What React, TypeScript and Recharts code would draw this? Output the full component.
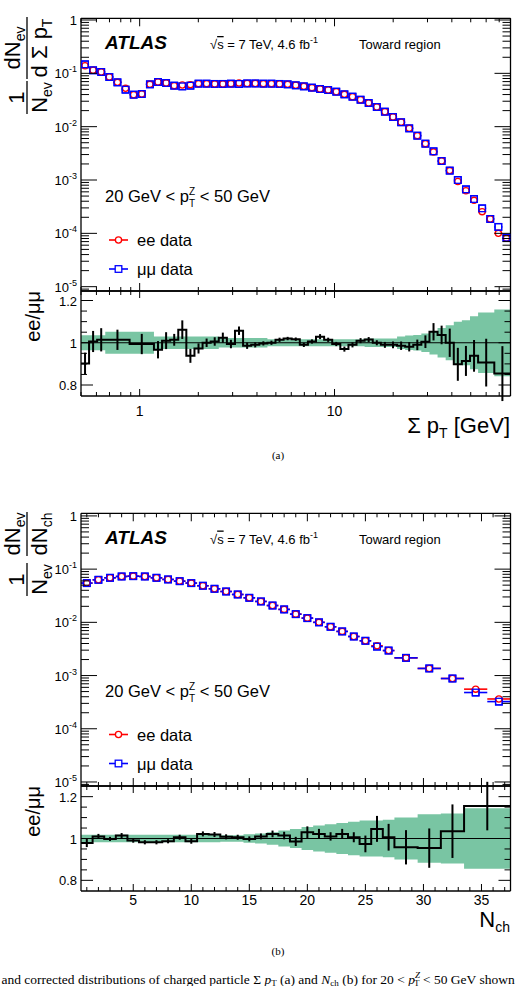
import React from "react";
import {
  Area,
  ComposedChart,
  ErrorBar,
  Line,
  ReferenceLine,
  Scatter,
  XAxis,
  YAxis,
} from "recharts";

const FONT = "'Liberation Sans', Arial, Helvetica, sans-serif";
const SERIF = "'Liberation Serif', 'Times New Roman', serif";
const RED = "#ff0000";
const BLUE = "#0000ff";
const BAND = "#79c5a3";

// ---- Σ pT, toward region ----
const sumPtEdges = [
  0.5, 0.55, 0.605, 0.666, 0.733, 0.807, 0.888, 0.977, 1.076, 1.184, 1.303,
  1.434, 1.578, 1.736, 1.911, 2.103, 2.314, 2.547, 2.803, 3.084, 3.394, 3.735,
  4.111, 4.524, 4.978, 5.478, 6.029, 6.635, 7.302, 8.035, 8.843, 9.731, 10.71,
  11.79, 12.97, 14.27, 15.71, 17.29, 19.02, 20.94, 23.04, 25.36, 27.9, 30.71,
  33.79, 37.19, 40.93, 45.04, 49.57, 54.55, 60.03, 66.06, 72.7, 80,
];
const sumPtEE = [
  0.139, 0.114, 0.106, 0.0853, 0.0678, 0.0523, 0.0398, 0.041, 0.0622, 0.0688,
  0.0659, 0.0587, 0.0605, 0.0613, 0.064, 0.064, 0.0633, 0.0633, 0.064, 0.0659,
  0.0646, 0.0646, 0.064, 0.064, 0.0633, 0.0622, 0.0596, 0.057, 0.0539, 0.0508,
  0.0487, 0.0453, 0.0404, 0.0365, 0.032, 0.0278, 0.0234, 0.0191, 0.0152,
  0.0121, 0.0093, 0.00678, 0.0048, 0.00335, 0.00227, 0.0015, 0.00094, 0.00063,
  0.000416, 0.000255, 0.000186, 0.0001, 0.000081,
];
const sumPtMuMu = [
  0.1475, 0.114, 0.106, 0.0853, 0.0678, 0.0494, 0.0398, 0.041, 0.0622, 0.0688,
  0.0659, 0.0587, 0.057, 0.0587, 0.064, 0.064, 0.0633, 0.0633, 0.064, 0.0633,
  0.0646, 0.0646, 0.064, 0.064, 0.0633, 0.0622, 0.0596, 0.057, 0.0539, 0.0508,
  0.0487, 0.0453, 0.0404, 0.0365, 0.032, 0.0278, 0.0234, 0.0191, 0.0152,
  0.0121, 0.0093, 0.00678, 0.0048, 0.00345, 0.00227, 0.0015, 0.001, 0.000668,
  0.00044, 0.000294, 0.000186, 0.000132, 0.000083,
];
// ratio uses the same bins, except the last four are merged in pairs
const sumPtRatioEdges = [
  0.5, 0.55, 0.605, 0.666, 0.733, 0.807, 0.888, 0.977, 1.076, 1.184, 1.303,
  1.434, 1.578, 1.736, 1.911, 2.103, 2.314, 2.547, 2.803, 3.084, 3.394, 3.735,
  4.111, 4.524, 4.978, 5.478, 6.029, 6.635, 7.302, 8.035, 8.843, 9.731, 10.71,
  11.79, 12.97, 14.27, 15.71, 17.29, 19.02, 20.94, 23.04, 25.36, 27.9, 30.71,
  33.79, 37.19, 40.93, 45.04, 49.57, 54.55, 66.06, 80,
];
const sumPtRatio = [
  0.902, 1.006, 1.014, 1.014, 1.014, 1.014, 0.994, 0.994, 0.994, 0.967, 1.01,
  1.014, 1.062, 0.938, 0.973, 1.0, 1.006, 1.024, 0.994, 1.057, 0.986, 0.99,
  0.997, 1.0, 1.014, 1.02, 1.017, 0.99, 1.006, 1.029, 1.014, 0.994, 0.97, 0.99,
  1.01, 1.015, 1.0, 0.99, 0.99, 0.986, 0.981, 0.99, 1.005, 1.052, 1.037, 1.0,
  0.898, 0.914, 0.938, 0.906, 0.854,
];
const sumPtRatioErr = [
  0.051, 0.05, 0.055, 0, 0.048, 0, 0, 0.048, 0, 0.041, 0.04, 0.028, 0.044,
  0.033, 0.024, 0.02, 0.02, 0.024, 0.02, 0.02, 0.015, 0.012, 0.01, 0.01, 0.01,
  0.008, 0.008, 0.01, 0.01, 0.012, 0.01, 0.01, 0.012, 0.012, 0.012, 0.012,
  0.012, 0.014, 0.016, 0.02, 0.022, 0.025, 0.03, 0.041, 0.044, 0.067, 0.078,
  0.071, 0.075, 0.113, 0.13,
];
const sumPtSyst = [
  0.036, 0.036, 0.036, 0.052, 0.052, 0.052, 0.052, 0.052, 0.052, 0.03, 0.03,
  0.03, 0.03, 0.03, 0.03, 0.03, 0.03, 0.022, 0.022, 0.022, 0.022, 0.022, 0.022,
  0.017, 0.017, 0.017, 0.017, 0.017, 0.017, 0.017, 0.017, 0.017, 0.017, 0.017,
  0.017, 0.02, 0.02, 0.02, 0.02, 0.03, 0.034, 0.037, 0.044, 0.055, 0.07, 0.083,
  0.1, 0.107, 0.125, 0.143, 0.158,
];

// ---- N_ch, toward region ----
const nchEdges = [
  0.5, 1.5, 2.5, 3.5, 4.5, 5.5, 6.5, 7.5, 8.5, 9.5, 10.5, 11.5, 12.5, 13.5,
  14.5, 15.5, 16.5, 17.5, 18.5, 19.5, 20.5, 21.5, 22.5, 23.5, 24.5, 25.5, 26.5,
  27.5, 29.5, 31.5, 33.5, 35.5, 37.5,
];
const nchEE = [
  0.0546, 0.063, 0.0687, 0.0728, 0.0738, 0.0728, 0.0687, 0.064, 0.0594, 0.0546,
  0.0487, 0.0427, 0.038, 0.0334, 0.0289, 0.0247, 0.0207, 0.0175, 0.01426,
  0.012, 0.01, 0.00825, 0.00675, 0.00542, 0.0045, 0.00363, 0.00295, 0.00215,
  0.00136, 0.00088, 0.000555, 0.000363,
];
const nchMuMu = [
  0.0546, 0.063, 0.0687, 0.0728, 0.0738, 0.0728, 0.0687, 0.064, 0.0594, 0.0546,
  0.0487, 0.0427, 0.038, 0.0334, 0.0289, 0.0247, 0.0207, 0.0175, 0.01426,
  0.012, 0.01, 0.00825, 0.00675, 0.00542, 0.0045, 0.0035, 0.00295, 0.00215,
  0.00136, 0.00088, 0.00048, 0.000324,
];
const nchRatioEdges = [
  0.5, 1.5, 2.5, 3.5, 4.5, 5.5, 6.5, 7.5, 8.5, 9.5, 10.5, 11.5, 12.5, 13.5,
  14.5, 15.5, 16.5, 17.5, 18.5, 19.5, 20.5, 21.5, 22.5, 23.5, 24.5, 25.5, 26.5,
  27.5, 29.5, 31.5, 33.5, 37.5,
];
const nchRatio = [
  0.979, 1.01, 0.998, 1.014, 0.99, 0.982, 0.982, 0.987, 1.006, 0.987, 1.022,
  1.019, 1.008, 1.006, 0.998, 1.01, 1.022, 1.014, 0.986, 1.03, 1.022, 1.01,
  1.022, 1.006, 0.974, 1.046, 1.006, 0.958, 0.954, 1.035, 1.155,
];
const nchRatioErr = [
  0.02, 0.012, 0.01, 0.012, 0.01, 0.01, 0.01, 0.01, 0.012, 0.012, 0.012, 0.012,
  0.012, 0.012, 0.012, 0.014, 0.016, 0.018, 0.022, 0.028, 0.024, 0.02, 0.024,
  0.024, 0.04, 0.062, 0.064, 0.082, 0.094, 0.128, 0.116,
];
const nchSyst = [
  0.018, 0.018, 0.018, 0.018, 0.018, 0.018, 0.018, 0.018, 0.018, 0.018, 0.018,
  0.018, 0.016, 0.016, 0.02, 0.024, 0.03, 0.038, 0.045, 0.055, 0.062, 0.068,
  0.074, 0.08, 0.086, 0.086, 0.09, 0.1, 0.116, 0.12, 0.145,
];

// axis ticks
const yDecades = [1e-5, 1e-4, 1e-3, 1e-2, 1e-1, 1];
const ratioTicks = [0.8, 0.85, 0.9, 0.95, 1, 1.05, 1.1, 1.15, 1.2];
const ratioLabels = [0.8, 1, 1.2];
const sumPtLabels = [1, 10];
const nchTicks = [
  1, 2, 3, 4, 5, 6, 7, 8, 9, 10, 11, 12, 13, 14, 15, 16, 17, 18, 19, 20, 21,
  22, 23, 24, 25, 26, 27, 28, 29, 30, 31, 32, 33, 34, 35, 36, 37,
];
const nchLabels = [5, 10, 15, 20, 25, 30, 35];

const logTicks = (lo: number, hi: number) => {
  const out: number[] = [];
  for (let e = Math.floor(Math.log10(lo)); e <= Math.ceil(Math.log10(hi)); e++) {
    for (let k = 1; k <= 9; k++) {
      const v = k * Math.pow(10, e);
      if (v >= lo * 0.9999 && v <= hi * 1.0001) out.push(v);
    }
  }
  return out;
};
const near = (list: number[]) => (v: number) =>
  list.some((m) => Math.abs(v - m) < 1e-9 * Math.max(1, m));

const binCenter = (lo: number, hi: number, log: boolean) =>
  log ? Math.sqrt(lo * hi) : (lo + hi) / 2;

function histPoints(edges: number[], vals: number[], log: boolean) {
  return vals.map((y, i) => {
    const x = binCenter(edges[i], edges[i + 1], log);
    return { x, y, xe: [x - edges[i], edges[i + 1] - x] };
  });
}

function stepRows(edges: number[], vals: number[], syst: number[]) {
  return edges.map((x, i) => {
    const j = Math.min(i, vals.length - 1);
    return { x, r: vals[j], band: [1 - syst[j], 1 + syst[j]] };
  });
}

function ratioPoints(edges: number[], vals: number[], errs: number[], log: boolean) {
  return vals.map((y, i) => ({
    x: binCenter(edges[i], edges[i + 1], log),
    y,
    ye: errs[i],
  }));
}

const decadeLabel = (v: number) => {
  if (Math.abs(v - 1) < 1e-9) return "1";
  const e = Math.round(Math.log10(v));
  return (
    <>
      10
      <tspan dy={-6} fontSize={9}>
        {e}
      </tspan>
    </>
  );
};

type Side = "bottom" | "top" | "left" | "right";

// ROOT-style inward ticks on every side of the frame
function makeTick(
  side: Side,
  isMajor: (v: number) => boolean,
  majorLen: number,
  minorLen: number,
  label?: (v: number) => React.ReactNode,
  labelGap = 20
) {
  return (props: any) => {
    const { x, y, payload } = props;
    const v = payload.value as number;
    const major = isMajor(v);
    const len = major ? majorLen : minorLen;
    const d =
      side === "bottom" ? [0, -len] : side === "top" ? [0, len] : side === "left" ? [len, 0] : [-len, 0];
    const txt = major && label ? label(v) : null;
    return (
      <g>
        <line x1={x} y1={y} x2={x + d[0]} y2={y + d[1]} stroke="#000" strokeWidth={1} />
        {txt != null && side === "bottom" && (
          <text x={x} y={y + labelGap} textAnchor="middle" fontSize={14} fontFamily={FONT} fill="#000">
            {txt}
          </text>
        )}
        {txt != null && side === "left" && (
          <text x={x - 4} y={y + 5} textAnchor="end" fontSize={13} fontFamily={FONT} fill="#000">
            {txt}
          </text>
        )}
      </g>
    );
  };
}

type AxisCfg = {
  scale: "log" | "linear";
  domain: [number, number];
  ticks: number[];
  isMajor: (v: number) => boolean;
  majorLen: number;
  minorLen: number;
  label?: (v: number) => React.ReactNode;
  labelGap?: number;
};

const frameLine = { stroke: "#000", strokeWidth: 1.3 };

// each axis takes 1px of the margin, so margins are set 1px smaller on every side
function frameAxes(xc: AxisCfg, yc: AxisCfg) {
  const common = {
    type: "number" as const,
    allowDataOverflow: true,
    interval: 0 as const,
    tickSize: 0,
    tickMargin: 0,
    axisLine: frameLine,
  };
  return [
    <XAxis
      key="xb"
      xAxisId="b"
      orientation="bottom"
      height={1}
      dataKey="x"
      scale={xc.scale}
      domain={xc.domain}
      ticks={xc.ticks}
      tick={makeTick("bottom", xc.isMajor, xc.majorLen, xc.minorLen, xc.label, xc.labelGap)}
      {...common}
    />,
    <XAxis
      key="xt"
      xAxisId="t"
      orientation="top"
      height={1}
      dataKey="x"
      scale={xc.scale}
      domain={xc.domain}
      ticks={xc.ticks}
      tick={makeTick("top", xc.isMajor, xc.majorLen, xc.minorLen)}
      {...common}
    />,
    <YAxis
      key="yl"
      yAxisId="l"
      orientation="left"
      width={1}
      scale={yc.scale}
      domain={yc.domain}
      ticks={yc.ticks}
      tick={makeTick("left", yc.isMajor, yc.majorLen, yc.minorLen, yc.label)}
      {...common}
    />,
    <YAxis
      key="yr"
      yAxisId="r"
      orientation="right"
      width={1}
      scale={yc.scale}
      domain={yc.domain}
      ticks={yc.ticks}
      tick={makeTick("right", yc.isMajor, yc.majorLen, yc.minorLen)}
      {...common}
    />,
  ];
}

const noShape = () => <g />;
const circle = (fill: string) => (p: any) =>
  p.cx == null ? <g /> : <circle cx={p.cx} cy={p.cy} r={3.1} fill={fill} stroke={RED} strokeWidth={1.3} />;
const square = (fill: string) => (p: any) =>
  p.cx == null ? (
    <g />
  ) : (
    <rect x={p.cx - 3.3} y={p.cy - 3.3} width={6.6} height={6.6} fill={fill} stroke={BLUE} strokeWidth={1.3} />
  );

type Margin = { top: number; right: number; bottom: number; left: number };

function MainPlot({
  height,
  margin,
  xc,
  yc,
  ee,
  mm,
}: {
  height: number;
  margin: Margin;
  xc: AxisCfg;
  yc: AxisCfg;
  ee: ReturnType<typeof histPoints>;
  mm: ReturnType<typeof histPoints>;
}) {
  return (
    <ComposedChart width={516} height={height} margin={margin}>
      {frameAxes(xc, yc)}
      <Scatter data={ee} dataKey="y" xAxisId="b" yAxisId="l" shape={noShape} isAnimationActive={false}>
        <ErrorBar dataKey="xe" direction="x" width={0} stroke={RED} strokeWidth={1.6} isAnimationActive={false} />
      </Scatter>
      <Scatter data={mm} dataKey="y" xAxisId="b" yAxisId="l" shape={noShape} isAnimationActive={false}>
        <ErrorBar dataKey="xe" direction="x" width={0} stroke={BLUE} strokeWidth={1.6} isAnimationActive={false} />
      </Scatter>
      <Scatter data={mm} dataKey="y" xAxisId="b" yAxisId="l" shape={square("#fff")} isAnimationActive={false} />
      <Scatter data={ee} dataKey="y" xAxisId="b" yAxisId="l" shape={circle("#fff")} isAnimationActive={false} />
      <Scatter data={mm} dataKey="y" xAxisId="b" yAxisId="l" shape={square("none")} isAnimationActive={false} />
    </ComposedChart>
  );
}

function RatioPlot({
  margin,
  xc,
  rows,
  pts,
  domain,
}: {
  margin: Margin;
  xc: AxisCfg;
  rows: ReturnType<typeof stepRows>;
  pts: ReturnType<typeof ratioPoints>;
  domain: [number, number];
}) {
  const yc: AxisCfg = {
    scale: "linear",
    domain,
    ticks: ratioTicks,
    isMajor: near(ratioLabels),
    majorLen: 12,
    minorLen: 6,
    label: (v) => String(v),
  };
  return (
    <ComposedChart width={516} height={140} margin={margin} data={rows}>
      {frameAxes(xc, yc)}
      <Area
        dataKey="band"
        type="stepAfter"
        xAxisId="b"
        yAxisId="l"
        fill={BAND}
        fillOpacity={1}
        stroke="none"
        isAnimationActive={false}
      />
      <ReferenceLine y={1} xAxisId="b" yAxisId="l" stroke="#000" strokeWidth={1} />
      <Line
        dataKey="r"
        type="stepAfter"
        xAxisId="b"
        yAxisId="l"
        stroke="#000"
        strokeWidth={2}
        dot={false}
        isAnimationActive={false}
      />
      <Scatter data={pts} dataKey="y" xAxisId="b" yAxisId="l" shape={noShape} isAnimationActive={false}>
        <ErrorBar dataKey="ye" direction="y" width={0} stroke="#000" strokeWidth={2} isAnimationActive={false} />
      </Scatter>
    </ComposedChart>
  );
}

const sumPtX = (ratio: boolean): AxisCfg => ({
  scale: "log",
  domain: [0.5, 80],
  ticks: logTicks(0.5, 80),
  isMajor: near(sumPtLabels),
  majorLen: ratio ? 7 : 8,
  minorLen: 4,
  label: ratio ? (v) => String(v) : undefined,
  labelGap: 20,
});

const nchX = (ratio: boolean): AxisCfg => ({
  scale: "linear",
  domain: [0.5, 37.5],
  ticks: nchTicks,
  isMajor: near(nchLabels),
  majorLen: ratio ? 7 : 8,
  minorLen: 4,
  label: ratio ? (v) => String(v) : undefined,
  labelGap: 14,
});

const mainY = (domain: [number, number]): AxisCfg => ({
  scale: "log",
  domain,
  ticks: logTicks(domain[0], domain[1]),
  isMajor: near(yDecades),
  majorLen: 16,
  minorLen: 8,
  label: decadeLabel,
});

function Legend({ dy }: { dy: number }) {
  return (
    <g fontFamily={FONT} fill="#000">
      <text x={105} y={49 + dy} fontSize={19} fontWeight="bold" fontStyle="italic">
        ATLAS
      </text>
      <text x={210} y={49 + dy} fontSize={13}>
        √<tspan textDecoration="overline">s</tspan> = 7 TeV, 4.6 fb
        <tspan dy={-6} fontSize={9}>
          -1
        </tspan>
      </text>
      <text x={359} y={49 + dy} fontSize={13}>
        Toward region
      </text>
      <text x={105} y={202 + dy} fontSize={16.5}>
        20 GeV &lt; p
        <tspan dy={-7} fontSize={10}>
          Z
        </tspan>
        <tspan dx={-6} dy={12} fontSize={10}>
          T
        </tspan>
        <tspan dy={-5}> &lt; 50 GeV</tspan>
      </text>
      <line x1={109} x2={128} y1={240 + dy} y2={240 + dy} stroke={RED} strokeWidth={1.6} />
      <circle cx={118.5} cy={240 + dy} r={3.1} fill="#fff" stroke={RED} strokeWidth={1.3} />
      <text x={137} y={246 + dy} fontSize={16.5}>
        ee data
      </text>
      <line x1={109} x2={128} y1={269 + dy} y2={269 + dy} stroke={BLUE} strokeWidth={1.6} />
      <rect x={115.2} y={265.7 + dy} width={6.6} height={6.6} fill="#fff" stroke={BLUE} strokeWidth={1.3} />
      <text x={137} y={275 + dy} fontSize={16.5}>
        μμ data
      </text>
    </g>
  );
}

// rotated "1/N dN/dX" title
function YTitle({
  f1,
  f2,
  num2,
  den2,
  den2Sub,
}: {
  f1: [number, number];
  f2: [number, number];
  num2: string;
  den2: string;
  den2Sub: string;
}) {
  const c1 = (f1[0] + f1[1]) / 2;
  const c2 = (f2[0] + f2[1]) / 2;
  return (
    <g fontFamily={FONT} fontSize={22} fill="#000">
      <text transform={`translate(24,${c1}) rotate(-90)`} textAnchor="middle">
        1
      </text>
      <line x1={27} x2={27} y1={f1[0]} y2={f1[1]} stroke="#000" strokeWidth={1.3} />
      <text transform={`translate(47,${c1}) rotate(-90)`} textAnchor="middle">
        N
        <tspan fontSize={14} dy={5}>
          ev
        </tspan>
      </text>
      <text transform={`translate(20,${c2}) rotate(-90)`} textAnchor="middle">
        {num2}
        <tspan fontSize={14} dy={5}>
          ev
        </tspan>
      </text>
      <line x1={27} x2={27} y1={f2[0]} y2={f2[1]} stroke="#000" strokeWidth={1.3} />
      <text transform={`translate(47,${c2}) rotate(-90)`} textAnchor="middle">
        {den2}
        <tspan fontSize={14} dy={5}>
          {den2Sub}
        </tspan>
      </text>
    </g>
  );
}

export default function App() {
  const sumPtEEPts = histPoints(sumPtEdges, sumPtEE, true);
  const sumPtMMPts = histPoints(sumPtEdges, sumPtMuMu, true);
  const nchEEPts = histPoints(nchEdges, nchEE, false);
  const nchMMPts = histPoints(nchEdges, nchMuMu, false);

  return (
    <div
      style={{
        position: "absolute",
        left: 0,
        top: 0,
        width: 516,
        height: 986,
        background: "#fff",
        overflow: "hidden",
      }}
    >
      <div style={{ position: "absolute", left: 0, top: 0 }}>
        <MainPlot
          height={300}
          margin={{ top: 17.3, right: 4.5, bottom: 8, left: 80 }}
          xc={sumPtX(false)}
          yc={mainY([8.3e-6, 1.076])}
          ee={sumPtEEPts}
          mm={sumPtMMPts}
        />
      </div>
      <div style={{ position: "absolute", left: 0, top: 280 }}>
        <RatioPlot
          margin={{ top: 10, right: 4.5, bottom: 23, left: 80 }}
          xc={sumPtX(true)}
          rows={stepRows(sumPtRatioEdges, sumPtRatio, sumPtSyst)}
          pts={ratioPoints(sumPtRatioEdges, sumPtRatio, sumPtRatioErr, true)}
          domain={[0.748, 1.245]}
        />
      </div>
      <div style={{ position: "absolute", left: 0, top: 500 }}>
        <MainPlot
          height={300}
          margin={{ top: 12.3, right: 4.5, bottom: 13, left: 80 }}
          xc={nchX(false)}
          yc={mainY([8.4e-6, 1.12])}
          ee={nchEEPts}
          mm={nchMMPts}
        />
      </div>
      <div style={{ position: "absolute", left: 0, top: 775 }}>
        <RatioPlot
          margin={{ top: 10, right: 4.5, bottom: 23, left: 80 }}
          xc={nchX(true)}
          rows={stepRows(nchRatioEdges, nchRatio, nchSyst)}
          pts={ratioPoints(nchRatioEdges, nchRatio, nchRatioErr, false)}
          domain={[0.749, 1.251]}
        />
      </div>

      <svg
        width={516}
        height={986}
        style={{ position: "absolute", left: 0, top: 0, pointerEvents: "none" }}
      >
        <Legend dy={0} />
        <Legend dy={494.5} />

        <YTitle f1={[81, 114]} f2={[17, 79]} num2="dN" den2="d Σ p" den2Sub="T" />
        <YTitle f1={[563, 596]} f2={[512, 556]} num2="dN" den2="dN" den2Sub="ch" />

        <g fontFamily={FONT} fill="#000">
          <text transform="translate(40,291) rotate(-90)" textAnchor="end" fontSize={20}>
            ee/μμ
          </text>
          <text transform="translate(40,786) rotate(-90)" textAnchor="end" fontSize={20}>
            ee/μμ
          </text>
          <text x={510} y={433} textAnchor="end" fontSize={22}>
            Σ p
            <tspan dy={5} fontSize={14}>
              T
            </tspan>
            <tspan dy={-5}> [GeV]</tspan>
          </text>
          <text x={510} y={927} textAnchor="end" fontSize={22}>
            N
            <tspan dy={5} fontSize={14}>
              ch
            </tspan>
          </text>
        </g>

        <g fontFamily={SERIF} fill="#000">
          <text x={278} y={459} textAnchor="middle" fontSize={11}>
            (a)
          </text>
          <text x={278} y={955} textAnchor="middle" fontSize={11}>
            (b)
          </text>
          <text x={1.5} y={984} fontSize={13.5}>
            and corrected distributions of charged particle Σ <tspan fontStyle="italic">p</tspan>
            <tspan dy={2} fontSize={9}>
              T
            </tspan>
            <tspan dy={-2}> (a) and </tspan>
            <tspan fontStyle="italic">N</tspan>
            <tspan dy={2} fontSize={9}>
              ch
            </tspan>
            <tspan dy={-2}> (b) for 20 &lt; </tspan>
            <tspan fontStyle="italic">p</tspan>
            <tspan dy={-6} fontSize={9} fontStyle="italic">
              Z
            </tspan>
            <tspan dx={-6} dy={8} fontSize={9}>
              T
            </tspan>
            <tspan dy={-2}> &lt; 50 GeV shown separately</tspan>
          </text>
        </g>
      </svg>
    </div>
  );
}
